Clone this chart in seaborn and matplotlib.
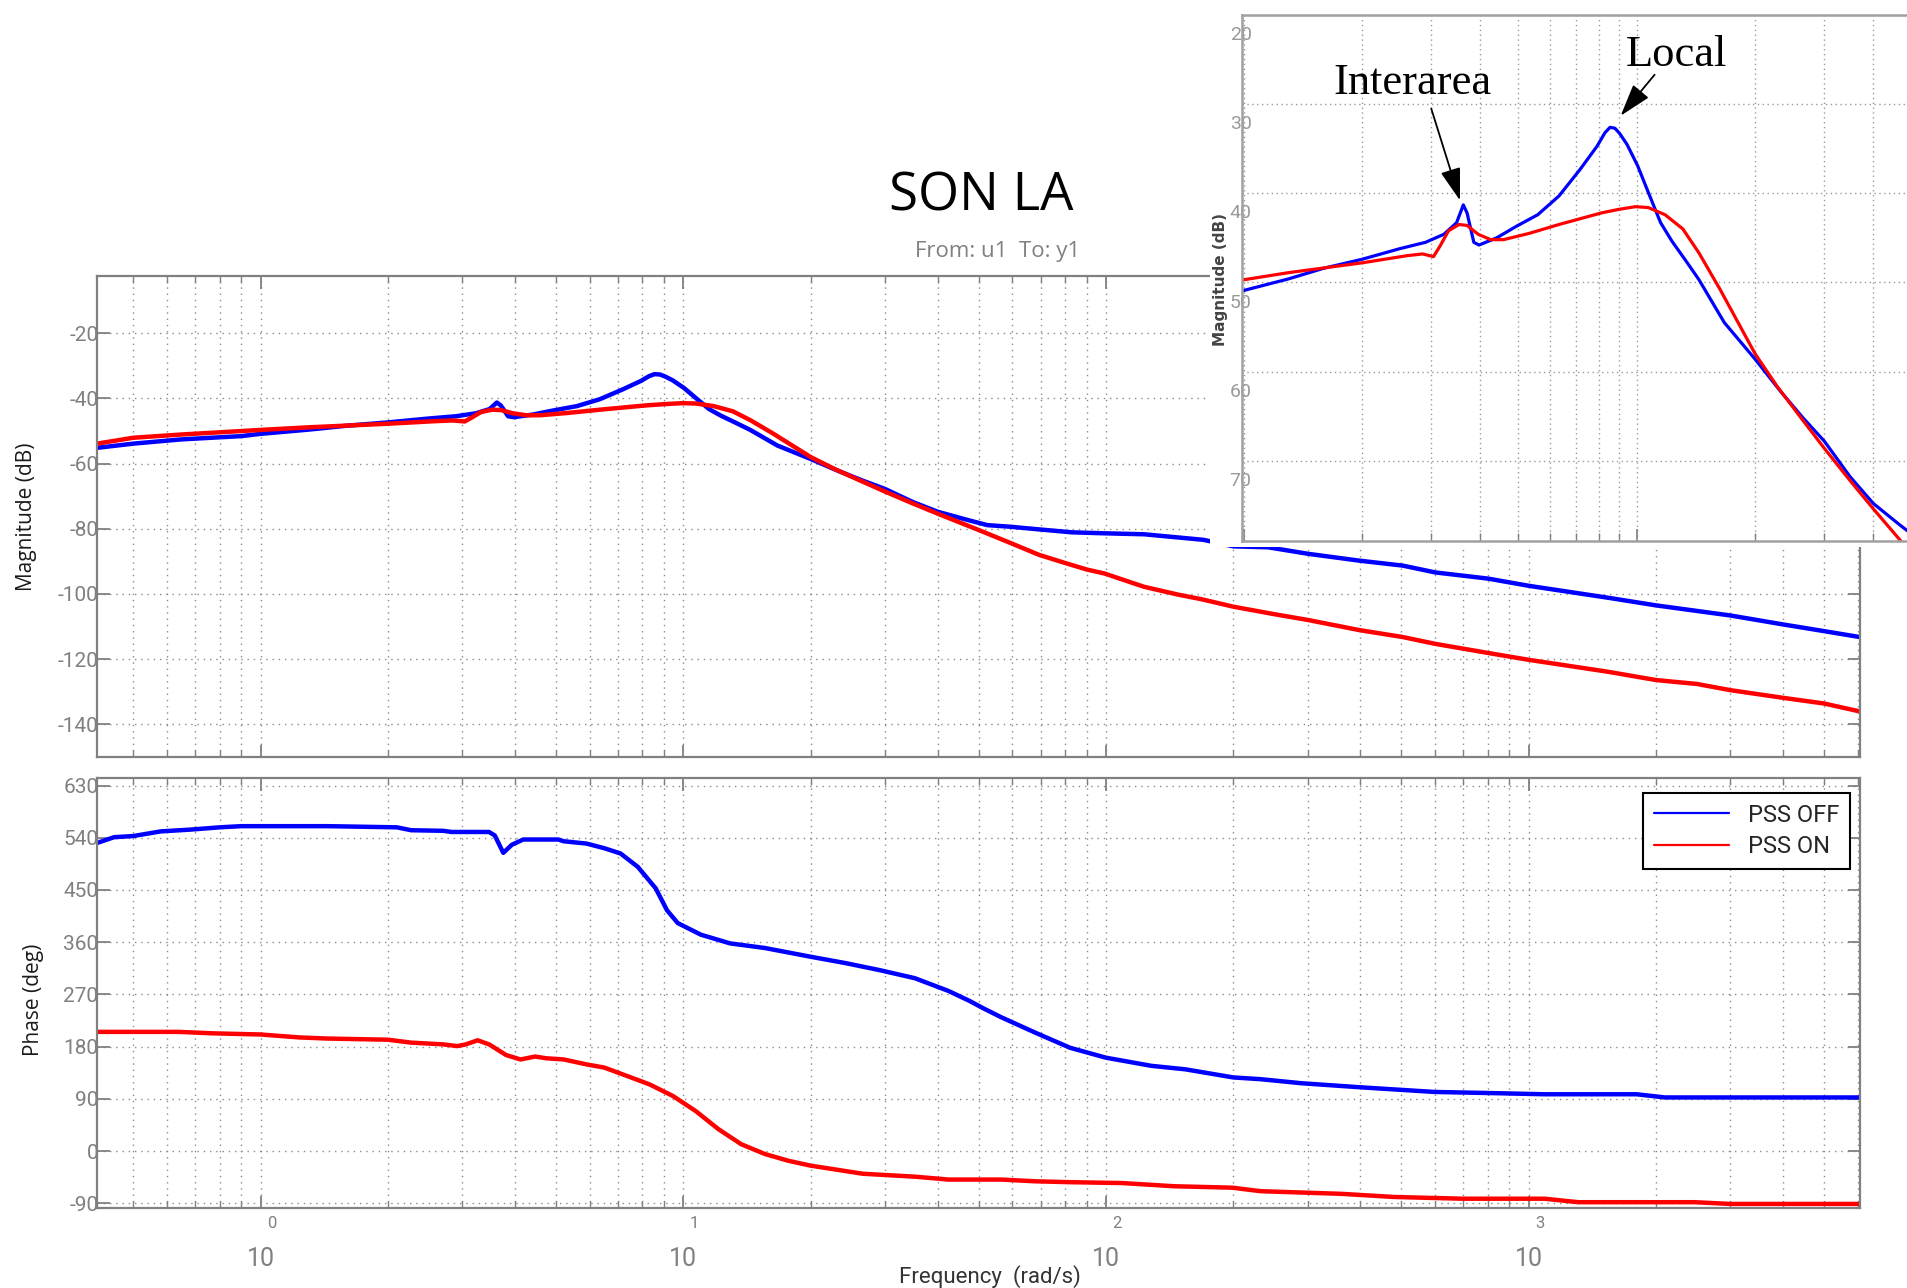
import numpy as np
import pandas as pd
import seaborn as sns
import matplotlib
matplotlib.use("Agg")
import matplotlib.pyplot as plt
from matplotlib.ticker import LogLocator, NullFormatter, FixedLocator
from matplotlib.patches import Rectangle
from matplotlib.lines import Line2D
from matplotlib.transforms import ScaledTranslation

# ---------------- data ----------------
f_mag_off = [0.41, 0.5, 0.65, 0.9, 1.0, 1.3, 1.6, 2.0, 2.5, 2.9, 3.23, 3.48, 3.62, 3.7,
             3.85, 3.97, 4.4, 4.94, 5.6, 6.34, 7.18, 7.93, 8.3, 8.55, 8.8, 9.05, 9.44,
             10.05, 10.7, 11.5, 12.3, 13.3, 14.4, 16.7, 20, 23.2, 26.5, 30, 34.9, 40, 46.7,
             52.4, 59.5, 69.4, 83, 99, 123, 170, 200, 242, 301, 398, 503, 601, 802, 1000,
             1530, 2000, 3000, 4020, 5000, 6060]
mag_off = [-55.2, -53.9, -52.6, -51.6, -50.9, -49.6, -48.4, -47.4, -46.2, -45.5, -44.6,
           -43.3, -41.3, -42.2, -45.5, -45.8, -45.0, -43.7, -42.4, -40.3, -37.3, -34.7,
           -33.2, -32.6, -32.7, -33.3, -34.5, -36.9, -39.9, -43.3, -45.4, -47.5, -49.7,
           -54.5, -58.6, -62.2, -65.2, -67.8, -71.8, -74.8, -77.2, -78.9, -79.4, -80.2,
           -81.1, -81.4, -81.7, -83.4, -85.4, -85.7, -87.7, -89.8, -91.3, -93.4, -95.3,
           -97.5, -101.1, -103.5, -106.6, -109.4, -111.4, -113.2]

f_mag_on = [0.41, 0.5, 0.65, 1.0, 1.3, 2.0, 2.6, 2.85, 3.04, 3.16, 3.32, 3.53, 3.7, 3.95,
            4.25, 4.58, 5.32, 6.34, 8.13, 9.0, 9.93, 10.7, 11.8, 13.1, 14.4, 16.3, 20,
            22.8, 26.5, 30, 35, 40, 50, 59.5, 69.4, 80, 90, 99, 123, 148, 168, 200, 250,
            301, 398, 503, 601, 802, 1000, 1530, 2000, 2500, 3000, 4020, 5000, 6060]
mag_on = [-53.9, -52.1, -51.1, -49.7, -48.9, -47.8, -47.0, -46.8, -47.1, -45.9, -44.2,
          -43.5, -43.6, -44.6, -45.2, -45.2, -44.5, -43.5, -42.2, -41.8, -41.5, -41.6,
          -42.4, -44.0, -46.7, -50.8, -58.0, -61.7, -65.5, -68.6, -72.3, -75.4, -80.4,
          -84.4, -88.0, -90.5, -92.5, -93.7, -97.8, -100.2, -101.6, -103.9, -106.2,
          -108.0, -111.1, -113.2, -115.3, -118.1, -120.2, -123.8, -126.4, -127.6, -129.5,
          -131.9, -133.6, -136.0]

f_ph_off = [0.41, 0.45, 0.5, 0.58, 0.68, 0.8, 0.9, 1.0, 1.44, 2.1, 2.27, 2.7, 2.83, 3.47,
            3.58, 3.75, 3.93, 4.18, 5.06, 5.21, 5.9, 6.5, 7.1, 7.8, 8.6, 9.15, 9.7, 11.0,
            12.9, 15.6, 20, 24.2, 29.1, 35.3, 42.4, 47.5, 51.3, 56.4, 68.1, 82.3, 100, 128,
            154, 200, 232, 290, 400, 598, 820, 1090, 1800, 2100, 6080]
ph_off = [531, 541, 543, 551, 554, 558, 560, 560, 560, 558, 553, 552, 550, 550, 544, 514,
          528, 537, 537, 534, 530, 522, 513, 490, 453, 415, 393, 373, 358, 350, 335, 324,
          312, 298, 276, 259, 246, 231, 204, 178, 161, 147, 141, 127, 124, 117, 110, 102,
          100, 98, 98, 92.5, 92.5]

f_ph_on = [0.41, 0.64, 0.77, 1.0, 1.23, 1.44, 2.0, 2.27, 2.7, 2.92, 3.06, 3.26, 3.47, 3.81,
           4.12, 4.46, 4.74, 5.21, 5.9, 6.5, 7.36, 8.32, 9.45, 10.7, 12.1, 13.7, 15.6,
           17.7, 20, 26.6, 35.3, 42.4, 56.4, 68.1, 82, 109, 145, 199, 232, 361, 480, 700,
           1090, 1310, 2470, 3000, 6080]
ph_on = [205.5, 205.5, 203, 201, 196, 194, 192, 187, 184, 181, 184, 191, 184, 165.5, 158,
         163, 160, 158, 149.5, 144, 129.5, 115, 95, 69, 38, 12, -5, -16.5, -25, -39, -44,
         -49, -49, -52, -53.5, -55, -60.5, -63, -69, -73.6, -79, -82, -82, -88, -88, -91,
         -91]

series_names = ["PSS OFF", "PSS ON"]
series_colors = ["#0000ff", "#ff0000"]

mag_yticks = [-140, -120, -100, -80, -60, -40, -20]
ph_yticks = [-90, 0, 90, 180, 270, 360, 450, 540, 630]
x_major = [1, 10, 100, 1000]
x_exponents = ["0", "1", "2", "3"]
inset_yticks = [-70, -60, -50, -40, -30, -20]
inset_ylabels = ["70", "60", "50", "40", "30", "20"]

# ---------------- style ----------------
sns.set_theme(style="white")
TICKFONT = ["Roboto", "DejaVu Sans"]
plt.rcParams["font.family"] = TICKFONT

GRAY = "#808080"
W, H = 1907, 1288
fig = plt.figure(figsize=(W / 100, H / 100), dpi=100)


def fx(px):
    return px / W


def fy(py):
    return 1 - py / H


XMIN, XMAX = 0.41, 6080

ax_mag = fig.add_axes([fx(97), fy(757), (1860 - 97) / W, (757 - 276) / H])
ax_ph = fig.add_axes([fx(97), fy(1208), (1860 - 97) / W, (1208 - 778) / H])

df_mag = pd.concat([
    pd.DataFrame({"f": f_mag_off, "v": mag_off, "s": series_names[0]}),
    pd.DataFrame({"f": f_mag_on, "v": mag_on, "s": series_names[1]}),
])
df_ph = pd.concat([
    pd.DataFrame({"f": f_ph_off, "v": ph_off, "s": series_names[0]}),
    pd.DataFrame({"f": f_ph_on, "v": ph_on, "s": series_names[1]}),
])
pal = dict(zip(series_names, series_colors))

line_kw = dict(sort=False, estimator=None, legend=False, solid_joinstyle="round",
               solid_capstyle="round")
sns.lineplot(data=df_mag, x="f", y="v", hue="s", palette=pal, ax=ax_mag, lw=3.2, **line_kw)
sns.lineplot(data=df_ph, x="f", y="v", hue="s", palette=pal, ax=ax_ph, lw=3.2, **line_kw)


def style_main(ax, ylim, yticks):
    ax.set_xscale("log")
    ax.set_xlim(XMIN, XMAX)
    ax.set_ylim(*ylim)
    ax.set_yticks(yticks)
    ax.set_yticklabels([str(t) for t in yticks])
    ax.xaxis.set_major_locator(FixedLocator(x_major))
    ax.xaxis.set_minor_locator(LogLocator(base=10, subs=np.arange(2, 10), numticks=30))
    ax.xaxis.set_minor_formatter(NullFormatter())
    ax.set_xlabel("")
    ax.set_ylabel("")
    ax.grid(True, which="major", axis="both", color="#8a8a8a", ls=(0, (1, 3.5)), lw=1.0)
    ax.grid(True, which="minor", axis="x", color="#8a8a8a", ls=(0, (1, 3.5)), lw=1.0)
    ax.tick_params(which="both", direction="in", top=True, right=True, bottom=True,
                   left=True, color=GRAY, labelcolor=GRAY)
    ax.tick_params(which="major", length=9, width=1.3)
    ax.tick_params(which="minor", length=5, width=1.0)
    ax.tick_params(axis="y", labelsize=15, pad=-1)
    for s in ax.spines.values():
        s.set_visible(True)
        s.set_color(GRAY)
        s.set_linewidth(1.6)


style_main(ax_mag, (-150, -2.5), mag_yticks)
style_main(ax_ph, (-98, 643), ph_yticks)
ax_mag.set_xticklabels([])

ax_ph.set_xticklabels(["10"] * len(x_major))
ax_ph.tick_params(axis="x", which="major", labelsize=18, pad=28)
for xv, e in zip(x_major, x_exponents):
    ax_ph.annotate(e, xy=(xv, 0), xycoords=("data", "axes fraction"), xytext=(8, -11),
                   textcoords="offset points", ha="center", va="center", fontsize=12,
                   color=GRAY)

# labels & titles
fig.text(fx(27), fy(517), "Magnitude (dB)", rotation=90, ha="center", va="center",
         fontsize=15, family=["Open Sans", "DejaVu Sans"], color="#1a1a1a")
fig.text(fx(33), fy(1000), "Phase (deg)", rotation=90, ha="center", va="center",
         fontsize=15, family=["Open Sans", "DejaVu Sans"], color="#1a1a1a")
fig.text(fx(990), fy(1277), "Frequency  (rad/s)", ha="center", va="center",
         fontsize=16, color="#333333")
fig.text(fx(981), fy(197), "SON LA", ha="center", va="center", fontsize=38,
         family=["Open Sans", "DejaVu Sans"], color="black")
fig.text(fx(998), fy(251), "From: u1  To: y1", ha="center", va="center", fontsize=16,
         family=["Open Sans", "DejaVu Sans"], color=GRAY)

# legend
handles = [Line2D([0], [0], color=c, lw=1.6) for c in series_colors]
leg = ax_ph.legend(handles, series_names, loc="upper right",
                   bbox_to_anchor=(fx(1850), fy(793)), bbox_transform=fig.transFigure,
                   borderaxespad=0, fontsize=17, frameon=True, fancybox=False,
                   handlelength=3.2, handletextpad=0.8, borderpad=0.45, labelspacing=0.35)
leg.get_frame().set_edgecolor("black")
leg.get_frame().set_linewidth(1.5)
leg.get_frame().set_alpha(1)

# ---------------- inset (zoom of magnitude) ----------------
bg = Rectangle((fx(1210), fy(547)), 1 - fx(1210), 547 / H, transform=fig.transFigure,
               facecolor="white", edgecolor="none", zorder=2)
fig.add_artist(bg)

ax_in = fig.add_axes([fx(1242), fy(541), 1 - fx(1242), (541 - 15) / H], zorder=3)
sns.lineplot(data=df_mag, x="f", y="v", hue="s", palette=pal, ax=ax_in, lw=2.3, **line_kw)
ax_in.set_xscale("log")
ax_in.set_xlim(0.99, 48.7)
ax_in.set_ylim(-79, -20)
ax_in.set_xlabel("")
ax_in.set_ylabel("")
ax_in.xaxis.set_major_locator(FixedLocator([1, 10]))
ax_in.xaxis.set_minor_locator(LogLocator(base=10, subs=np.arange(2, 10), numticks=30))
ax_in.xaxis.set_major_formatter(NullFormatter())
ax_in.xaxis.set_minor_formatter(NullFormatter())
ax_in.set_yticks(inset_yticks)
ax_in.set_yticklabels(inset_ylabels)
ax_in.grid(True, which="major", axis="both", color="#9a9a9a", ls=(0, (1, 2.5)), lw=1.0)
ax_in.grid(True, which="minor", axis="x", color="#9a9a9a", ls=(0, (1, 2.5)), lw=1.0)
ax_in.tick_params(which="both", direction="in", bottom=True, top=False, left=False,
                  right=False, color=GRAY, labelcolor="#9a9a9a")
ax_in.tick_params(which="major", length=9, width=1.2)
ax_in.tick_params(which="minor", length=6, width=1.0)
ax_in.tick_params(axis="y", labelsize=14, pad=-7)
for lbl in ax_in.get_yticklabels():
    lbl.set_transform(lbl.get_transform() + ScaledTranslation(0, -13 / 72, fig.dpi_scale_trans))
for name, s in ax_in.spines.items():
    s.set_color("#a0a0a0")
    s.set_linewidth(1.8)
    s.set_visible(name != "right")

fig.text(fx(1221), fy(280), "Magnitude (dB)", rotation=90, ha="center", va="center",
         fontsize=11, color="#444444", zorder=4, family=["DejaVu Sans"], weight="bold")

arrow_kw = dict(arrowstyle="-|>,head_length=0.8,head_width=0.25", mutation_scale=25,
                color="black", lw=1.3, shrinkA=0, shrinkB=0)
ax_in.annotate("", xy=(3.55, -40.8), xytext=(3.0, -30.5), arrowprops=arrow_kw)
ax_in.annotate("", xy=(9.1, -31.3), xytext=(11.1, -26.7), arrowprops=arrow_kw)
ax_in.text(2.69, -27.6, "Interarea", ha="center", va="center", fontsize=32,
           family=["Liberation Serif", "DejaVu Serif"], color="black")
ax_in.text(12.6, -24.5, "Local", ha="center", va="center", fontsize=32,
           family=["Liberation Serif", "DejaVu Serif"], color="black")

fig.savefig("out.png", dpi=100)
